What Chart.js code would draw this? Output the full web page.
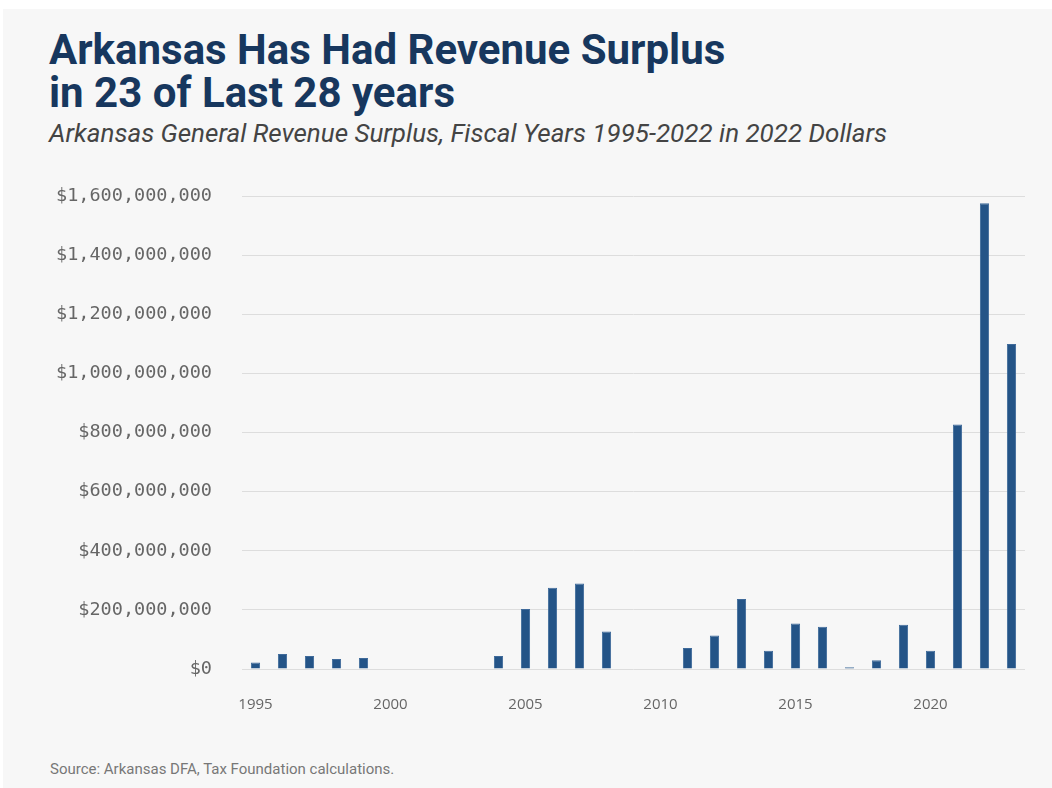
<!DOCTYPE html>
<html>
<head>
<meta charset="utf-8">
<script src="https://cdn.jsdelivr.net/npm/chart.js@4.4.1/dist/chart.umd.min.js"></script>
<style>
  html, body { margin: 0; padding: 0; background: #fff; width: 1052px; height: 788px; overflow: hidden; }
  #panel { position: absolute; left: 3px; top: 9px; width: 1049px; height: 779px; background: #f7f7f7; }
  .title { position: absolute; left: 49px; top: 28px; margin: 0; font-family: Roboto, sans-serif; font-weight: 700;
           font-size: 42px; line-height: 43px; color: #17375e; }
  .subtitle { position: absolute; left: 49px; top: 120px; margin: 0; font-family: Roboto, sans-serif; font-style: italic;
              font-size: 26px; line-height: 26px; color: #444; }
  .source { position: absolute; left: 50px; top: 762px; font-family: Roboto, sans-serif; font-size: 15px; line-height: 15px; color: #777; }
  #wrap { position: absolute; left: 40px; top: 155px; width: 995px; height: 564px; }
</style>
</head>
<body>
<div id="panel"></div>
<h1 class="title">Arkansas Has Had Revenue Surplus<br>in 23 of Last 28 years</h1>
<div class="subtitle">Arkansas General Revenue Surplus, Fiscal Years 1995-2022 in 2022 Dollars</div>
<div class="source">Source: Arkansas DFA, Tax Foundation calculations.</div>
<div id="wrap"><canvas id="surplusChart"></canvas></div>
<script>
  // Fiscal years shown on the axis
  const years = [];
  for (let y = 1995; y <= 2023; y++) years.push(String(y));

  // Surplus in 2022 dollars
  const surplus = [
    22000000, 51000000, 44000000, 34000000, 37000000,
    0, 0, 0, 0,
    44000000, 203000000, 275000000, 289000000, 127000000,
    0, 0,
    71000000, 113000000, 237000000, 62000000, 154000000, 143000000,
    6000000, 30000000, 150000000, 62000000, 827000000, 1576000000, 1100000000
  ];

  const yTicks = [0, 200000000, 400000000, 600000000, 800000000, 1000000000, 1200000000, 1400000000, 1600000000];

  const ctx = document.getElementById('surplusChart').getContext('2d');
  new Chart(ctx, {
    type: 'bar',
    data: {
      labels: years,
      datasets: [{
        label: 'Surplus',
        data: surplus,
        backgroundColor: '#245487',
        borderColor: '#3f6a9a',
        borderWidth: 1,
        barPercentage: 0.34,
        categoryPercentage: 1
      }]
    },
    options: {
      responsive: true,
      maintainAspectRatio: false,
      animation: false,
      layout: { padding: { top: 15, right: 10, left: 0, bottom: 0 } },
      plugins: {
        legend: { display: false },
        tooltip: { enabled: false }
      },
      scales: {
        x: {
          grid: { display: false },
          border: { display: false },
          afterFit: function(axis) { axis.height = 50; },
          ticks: {
            autoSkip: false,
            maxRotation: 0,
            padding: 19,
            color: '#666',
            font: { family: '"Open Sans", sans-serif', size: 15 },
            callback: function(value, index) {
              const label = this.getLabelForValue(value);
              return Number(label) % 5 === 0 ? label : '';
            }
          }
        },
        y: {
          min: yTicks[0],
          max: yTicks[yTicks.length - 1],
          afterFit: function(axis) { axis.width = 202; },
          afterBuildTicks: function(axis) {
            axis.ticks = yTicks.map(v => ({ value: v }));
          },
          grid: { color: '#dddddd', lineWidth: 1, drawTicks: false },
          border: { display: false },
          ticks: {
            padding: 30,
            color: '#666',
            font: { family: '"DejaVu Sans Mono", monospace', size: 18.5 },
            callback: function(value) {
              return '$' + value.toLocaleString('en-US');
            }
          }
        }
      }
    }
  });
</script>
</body>
</html>
